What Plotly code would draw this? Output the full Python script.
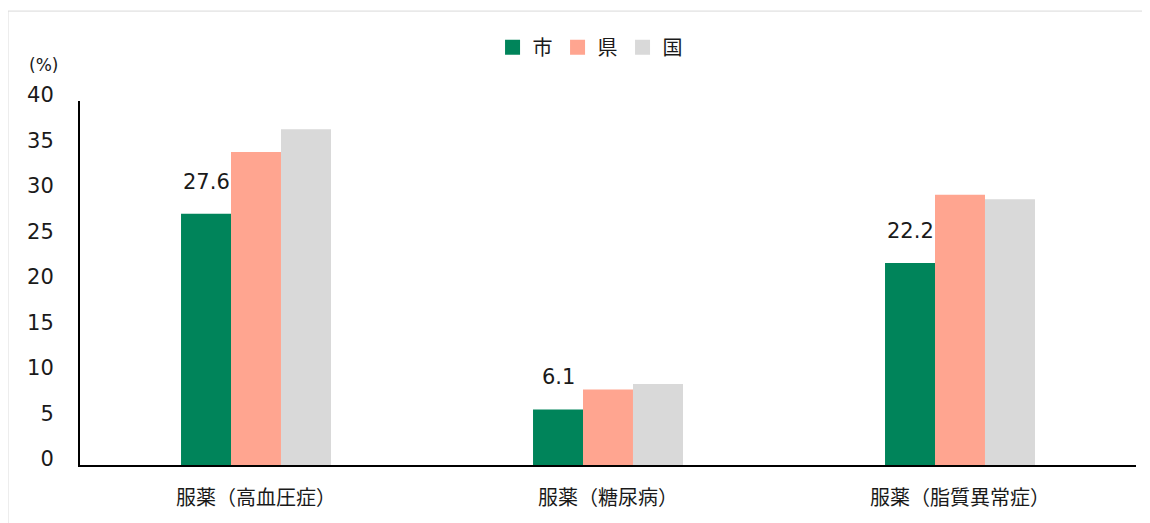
import plotly.graph_objects as go

# categories and values (%)
categories = ["服薬（高血圧症）", "服薬（糖尿病）", "服薬（脂質異常症）"]
city = [27.6, 6.1, 22.2]
pref = [34.4, 8.3, 29.7]
nation = [36.9, 8.9, 29.2]

series_names = ["市", "県", "国"]
colors = ["#00845A", "#FFA590", "#D9D9D9"]

font_main = "DejaVu Sans, Noto Sans CJK JP, sans-serif"

fig = go.Figure()
for name, vals, col in zip(series_names, [city, pref, nation], colors):
    fig.add_trace(go.Bar(x=categories, y=vals, name=name, showlegend=False,
                         marker=dict(color=col, line=dict(width=0))))
# legend entries with bigger square keys
for name, col in zip(series_names, colors):
    fig.add_trace(go.Scatter(x=[None], y=[None], mode="markers", name=name,
                             marker=dict(symbol="square", size=15, color=col)))

# data labels for the city series only
for cat, v in zip(categories, city):
    fig.add_annotation(x=cat, y=v, text=f"{v:.1f}", showarrow=False,
                       xshift=-50, yshift=18, yanchor="bottom",
                       font=dict(size=21, color="#1a1a1a", family=font_main))

# "(%)" unit label
fig.add_annotation(x=-0.019, y=1.10, xref="paper", yref="paper", text="(%)",
                   showarrow=False, xanchor="right", yanchor="middle",
                   font=dict(size=17, color="#1a1a1a", family=font_main))

# chart border
fig.add_shape(type="rect", xref="paper", yref="paper",
              x0=-0.0682, x1=1.0123, y0=-0.17, y1=1.247,
              line=dict(color="#D9D9D9", width=1), fillcolor="rgba(0,0,0,0)")

# page body has an 8px margin, so the figure is 8px smaller each way
fig.update_layout(
    width=1142, height=515,
    margin=dict(l=72, r=14, t=93, b=58),
    plot_bgcolor="white", paper_bgcolor="white",
    barmode="group", bargap=0.574, bargroupgap=0,
    font=dict(family=font_main, size=21, color="#1a1a1a"),
    legend=dict(orientation="h", x=0.483, xanchor="center",
                y=1.148, yanchor="middle", itemwidth=30,
                font=dict(size=20, family="Noto Sans CJK JP")),
)
fig.update_yaxes(range=[0, 40], dtick=5, showgrid=False, zeroline=False,
                 showline=True, linecolor="black", linewidth=2,
                 ticks="", ticklabelstandoff=20, ticklabelshift=-6,
                 tickfont=dict(size=21))
fig.update_xaxes(showline=True, linecolor="black", linewidth=2, ticks="",
                 ticklabelstandoff=14,
                 tickfont=dict(size=20, family="Noto Sans CJK JP"))

fig.write_html("out.html")
